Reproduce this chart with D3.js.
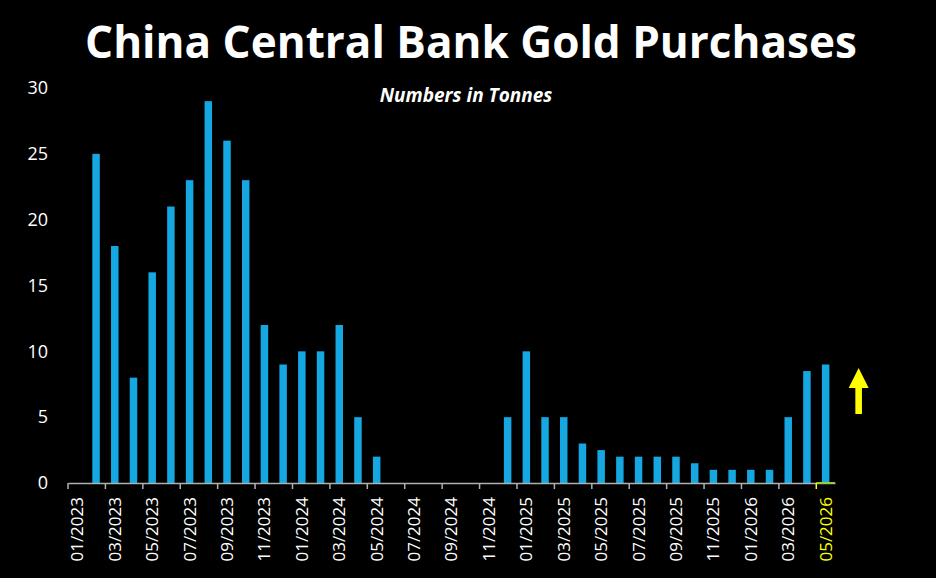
<!DOCTYPE html>
<html>
<head>
<meta charset="utf-8">
<script src="https://cdn.jsdelivr.net/npm/d3@7"></script>
<style>
body { margin: 0; background: #000; }
svg { display: block; }
text { font-family: "Open Sans", sans-serif; }
</style>
</head>
<body>
<div></div>
<script>
var w = 936;
var h = 578;

var months = [
	"01/2023","02/2023","03/2023","04/2023","05/2023","06/2023","07/2023","08/2023","09/2023","10/2023","11/2023","12/2023",
	"01/2024","02/2024","03/2024","04/2024","05/2024","06/2024","07/2024","08/2024","09/2024","10/2024","11/2024","12/2024",
	"01/2025","02/2025","03/2025","04/2025","05/2025","06/2025","07/2025","08/2025","09/2025","10/2025","11/2025","12/2025",
	"01/2026","02/2026","03/2026","04/2026","05/2026"
];
var tonnes = [
	0, 25, 18, 8, 16, 21, 23, 29, 26, 23, 12, 9,
	10, 10, 12, 5, 2, 0, 0, 0, 0, 0, 0, 5,
	10, 5, 5, 3, 2.5, 2, 2, 2, 2, 1.5, 1, 1,
	1, 1, 5, 8.5, 9
];
var yTicks = [0, 5, 10, 15, 20, 25, 30];
var titleText = "China Central Bank Gold Purchases";
var subtitleText = "Numbers in Tonnes";
var highlightMonth = "05/2026";

var barColor = "#14a7e1";
var axisColor = "#b0b0b0";
var yellow = "#ffff00";

var svg = d3.select("div").append("svg")
	.attr("width", w)
	.attr("height", h);

svg.append("rect").attr("width", w).attr("height", h).attr("fill", "#000");

var data = months.map(function(m, i) { return {month: m, value: tonnes[i]}; });

// scales
var xb = d3.scaleBand().domain(months).range([68, 835]).padding(0);
var x = d3.scaleBand().domain(months).range([68, 835]).paddingInner(0.6).paddingOuter(0.3);
var y = d3.scaleLinear().domain([0, 30]).range([483, 88]);

// title, fitted to the width of the original
var title = svg.append("text")
	.attr("x", 471)
	.attr("y", 58)
	.attr("text-anchor", "middle")
	.style("fill", "#fff")
	.style("font-weight", "bold")
	.style("font-size", "50px")
	.text(titleText);
var tl = title.node().getComputedTextLength();
title.style("font-size", (50 * 772 / tl) + "px");

svg.append("text")
	.attr("x", 466)
	.attr("y", 102)
	.attr("text-anchor", "middle")
	.style("fill", "#fff")
	.style("font-weight", "bold")
	.style("font-style", "italic")
	.style("font-size", "19px")
	.text(subtitleText);

// bars
svg.append("g").selectAll("rect")
	.data(data.filter(function(d) { return d.value > 0; }))
	.enter()
	.append("rect")
	.attr("x", function(d) { return x(d.month); })
	.attr("width", x.bandwidth())
	.attr("y", function(d) { return y(d.value); })
	.attr("height", function(d) { return y(0) - y(d.value); })
	.attr("fill", barColor);

// y axis labels (no line)
var yAxis = svg.append("g")
	.attr("transform", "translate(48,0)")
	.call(d3.axisLeft(y).tickValues(yTicks).tickSize(0).tickPadding(0));
yAxis.select(".domain").remove();
yAxis.selectAll("text")
	.style("font-size", "18px")
	.style("font-family", "'Open Sans', sans-serif")
	.style("fill", "#fff");

// x axis
var evenMonths = months.filter(function(d, i) { return i % 2 == 0; });
var xAxis = svg.append("g")
	.attr("transform", "translate(0," + y(0) + ")")
	.call(d3.axisBottom(xb).tickValues(evenMonths).tickSize(0).tickSizeOuter(0));
xAxis.select(".domain")
	.attr("stroke", axisColor)
	.attr("stroke-width", 1.5);
xAxis.selectAll("text")
	.attr("transform", "rotate(-90)")
	.attr("text-anchor", "end")
	.attr("x", -14)
	.attr("y", 0)
	.attr("dy", "0.35em")
	.style("font-size", "17px")
	.style("font-family", "'Open Sans', sans-serif")
	.style("fill", function(d) { return d == highlightMonth ? yellow : "#fff"; });

// highlight segment under last bar
xAxis.append("line")
	.attr("x1", xb(highlightMonth))
	.attr("x2", xb(highlightMonth) + xb.bandwidth())
	.attr("y1", 0)
	.attr("y2", 0)
	.attr("stroke", "#9acd32")
	.attr("stroke-width", 2);

// tick marks at band boundaries, every second month
xAxis.selectAll("line.tick-mark")
	.data(evenMonths)
	.enter()
	.append("line")
	.attr("class", "tick-mark")
	.attr("x1", function(d) { return xb(d); })
	.attr("x2", function(d) { return xb(d); })
	.attr("y1", 0)
	.attr("y2", 6)
	.attr("stroke", function(d) { return d == highlightMonth ? yellow : axisColor; })
	.attr("stroke-width", 1.5);

// yellow up arrow
var arrowX = x(highlightMonth) + x.bandwidth() / 2 + 33;
var arrow = d3.path();
arrow.moveTo(arrowX, 368);
arrow.lineTo(arrowX + 10, 388);
arrow.lineTo(arrowX + 3.3, 388);
arrow.lineTo(arrowX + 3.3, 414);
arrow.lineTo(arrowX - 3.3, 414);
arrow.lineTo(arrowX - 3.3, 388);
arrow.lineTo(arrowX - 10, 388);
arrow.closePath();
svg.append("path")
	.attr("d", arrow.toString())
	.attr("fill", yellow);
</script>
</body>
</html>
